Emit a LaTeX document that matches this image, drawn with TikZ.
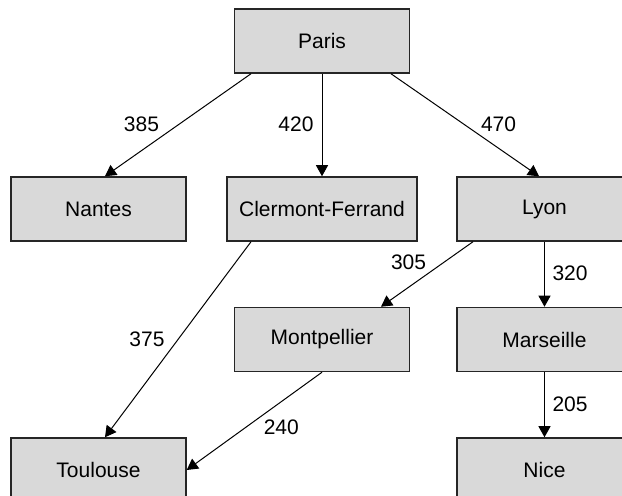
\documentclass[tikz,border=0pt]{standalone}
\usepackage{fontspec}
\setmainfont{Liberation Sans}
\usetikzlibrary{arrows.meta}
\definecolor{boxgray}{HTML}{D9D9D9}

\begin{document}
\begin{tikzpicture}[x=0.5pt,y=-0.5pt,->,>={Triangle[width=6pt,length=5.5pt]},
  line width=0.5pt,font=\fontsize{10.5}{12}\selectfont,
  city node/.style={rectangle,fill=boxgray,draw=black!85,line width=0.75pt,
  minimum width=87.5pt,minimum height=32pt,inner sep=2pt}]

  \useasboundingbox (0,0) rectangle (622,496);
  \clip (0,0) rectangle (622,496);

  \node[city node] (P) at (322,41) {Paris};
  \node[city node] (N) at (98.5,209) {Nantes};
  \node[city node, minimum width=95pt] (CF) at (322,209) {Clermont-Ferrand};
  \node[city node] (L) at (544.5,209) {Lyon};
  \node[city node] (M) at (322,339.5) {Montpellier};
  \node[city node] (Ma) at (544.5,339.5) {Marseille};
  \node[city node] (T) at (98.5,470) {Toulouse};
  \node[city node] (Ni) at (544.5,470) {Nice};

  \path[every node/.style={inner sep=1pt}]
    % distances in km, left/right of each arrow
    ([xshift=-35.5pt]P.south) edge node[pos=0.49,left=9pt] {385} ([xshift=3.25pt]N.north)
    (P) edge node[pos=0.49,left=3pt] {420} (CF)
    ([xshift=34.5pt]P.south) edge node[pos=0.49,right=7.5pt] {470} ([xshift=-2.75pt]L.north)
    ([xshift=-35.5pt]CF.south) edge node[pos=0.5,left=5.5pt] {375} ([xshift=3.25pt]T.north)
    ([xshift=-35.75pt]L.south) edge node[pos=0.32,left=7.5pt] {305} ([xshift=29.5pt]M.north)
    (L) edge node[pos=0.49,right=2.75pt] {320} (Ma)
    (M.south) edge node[pos=0.56,right=7.5pt] {240} (T.east)
    (Ma) edge node[pos=0.49,right=2.75pt] {205} (Ni);

\end{tikzpicture}
\end{document}
